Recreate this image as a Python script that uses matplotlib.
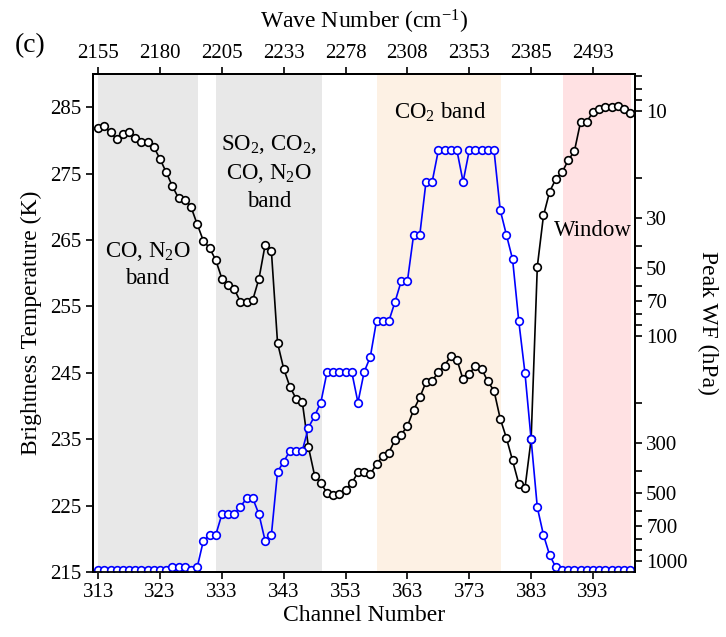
import numpy as np
import matplotlib.pyplot as plt
from matplotlib.ticker import FixedLocator, NullLocator

plt.rcParams['font.family'] = 'Liberation Serif'
plt.rcParams['mathtext.fontset'] = 'custom'
plt.rcParams['mathtext.rm'] = 'Liberation Serif'
plt.rcParams['mathtext.it'] = 'Liberation Serif:italic'

# channel numbers and brightness temperature (K)
channels = np.arange(313, 400)
bt = [281.8, 282.1, 281.2, 280.2, 281.0, 281.3, 280.4, 279.8, 279.8, 279.0,
      277.2, 275.2, 273.1, 271.3, 271.1, 270.0, 267.4, 264.9, 263.8, 262.0,
      259.2, 258.3, 257.6, 255.7, 255.6, 256.0, 259.2, 264.3, 263.4, 249.5,
      245.6, 242.9, 241.1, 240.6, 233.8, 229.5, 228.4, 226.9, 226.6, 226.8,
      227.4, 228.4, 230.0, 230.0, 229.7, 231.3, 232.4, 233.0, 234.9, 235.7,
      237.0, 239.4, 241.3, 243.6, 243.8, 245.1, 246.1, 247.5, 247.0, 244.0,
      244.8, 246.1, 245.6, 243.7, 242.3, 238.1, 235.2, 231.8, 228.3, 227.6,
      235.0, 261.0, 268.7, 272.3, 274.2, 275.2, 277.0, 278.4, 282.8, 282.8,
      284.3, 284.8, 285.0, 285.0, 285.2, 284.8, 284.2]

# peak of the weighting function (hPa)
peak_wf = [1100, 1100, 1100, 1100, 1100, 1100, 1100, 1100, 1100, 1100,
           1100, 1100, 1071, 1071, 1071, 1100, 1071, 817, 769, 769,
           622, 622, 622, 575, 528, 528, 622, 817, 769, 402,
           363, 324, 324, 324, 256, 227, 198, 145, 145, 145,
           145, 145, 198, 145, 124, 86, 86, 86, 70.6, 57.1,
           57.1, 35.6, 35.6, 20.7, 20.7, 15.0, 15.0, 15.0, 15.0, 20.7,
           15.0, 15.0, 15.0, 15.0, 15.0, 27.6, 35.6, 45.7, 86, 146,
           289, 579, 769, 944, 1071, 1100, 1100, 1100, 1100, 1100,
           1100, 1100, 1100, 1100, 1100, 1100, 1100]

tick_channels = [313, 323, 333, 343, 353, 363, 373, 383, 393]
wave_numbers = ['2155', '2180', '2205', '2233', '2278', '2308', '2353', '2385', '2493']

# absorption bands (channel ranges)
bands = [(313.0, 329.1), (332.05, 349.15), (358.15, 378.1), (388.1, 399.15)]
band_colors = ['#e8e8e8', '#e8e8e8', '#fdf1e4', '#ffe1e3']

wf_ticks = [7, 8, 9, 10, 20, 30, 40, 50, 60, 70, 80, 90, 100,
            200, 300, 400, 500, 600, 700, 800, 900, 1000]
wf_labels = [10, 30, 50, 70, 100, 300, 500, 700, 1000]

fig = plt.figure(figsize=(7.26, 6.37), dpi=100)
ax = fig.add_axes([0.128, 0.102, 0.7467, 0.7818])

for (x0, x1), c in zip(bands, band_colors):
    ax.axvspan(x0, x1, color=c, lw=0, zorder=0)

ax.plot(channels, bt, '-o', color='black', lw=1.2, ms=5.5,
        mfc='white', mec='black', mew=1.2, zorder=3)
ax.set_xlim(312.15, 399.8)
ax.set_ylim(215, 290)
ax.set_xticks(tick_channels)
ax.set_yticks(np.arange(215, 286, 10))
ax.set_xlabel('Channel Number', fontsize=17, labelpad=2)
ax.set_ylabel('Brightness Temperature (K)', fontsize=17, labelpad=6)

ax2 = ax.twinx()
ax2.plot(channels, peak_wf, '-o', color='blue', lw=1.2, ms=5.5,
         mfc='white', mec='blue', mew=1.2, zorder=4)
ax2.set_yscale('log')
ax2.set_ylim(1122, 6.87)
ax2.yaxis.set_major_locator(FixedLocator(wf_ticks))
ax2.yaxis.set_minor_locator(NullLocator())
ax2.set_yticklabels([str(t) if t in wf_labels else '' for t in wf_ticks])
ax2.set_ylabel('Peak WF (hPa)', fontsize=17, rotation=270, labelpad=22)

ax3 = ax.twiny()
ax3.set_xlim(ax.get_xlim())
ax3.set_xticks(tick_channels)
ax3.set_xticklabels(wave_numbers)
ax3.set_xlabel('Wave Number (cm$^{\\mathrm{-1}}$)', fontsize=17, labelpad=11)

for a in (ax, ax2, ax3):
    a.tick_params(direction='out', length=5, width=1.2, labelsize=15, pad=3)
    for s in a.spines.values():
        s.set_linewidth(1.3)

ax.text(321.0, 261.3, 'CO, N$_2$O\nband', fontsize=16.5, ha='center',
        va='center', linespacing=1.35, zorder=5)
ax.text(340.6, 275.2, 'SO$_2$, CO$_2$,\nCO, N$_2$O\nband', fontsize=16.5,
        ha='center', va='center', linespacing=1.35, zorder=5)
ax.text(368.3, 284.2, 'CO$_2$ band', fontsize=16.5, ha='center',
        va='center', zorder=5)
ax.text(393.0, 266.4, 'Window', fontsize=16.5, ha='center', va='center',
        zorder=5)

fig.text(0.041, 0.929, '(c)', fontsize=20, ha='center', va='center')

fig.savefig('out.png', dpi=100)
